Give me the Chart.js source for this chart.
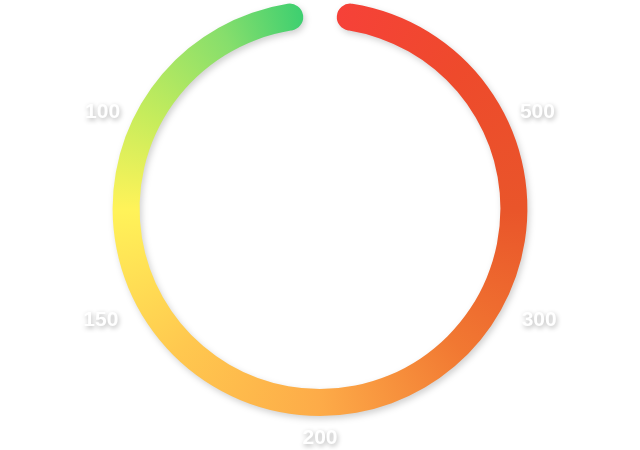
<!DOCTYPE html>
<html><head><meta charset="utf-8">
<script src="https://cdn.jsdelivr.net/npm/chart.js@4.4.0/dist/chart.umd.min.js"></script>
<style>html,body{margin:0;padding:0;background:#fff}#wrap{width:640px;height:450px;position:relative}</style>
</head><body><div id="wrap"><canvas id="c"></canvas></div>
<script>
// ring value (single continuous gauge arc)
const ringValue = [100];
// tick labels around the gauge
const tickLabels = ['500', '300', '200', '150', '100'];
// gradient colours along the ring, clockwise from the top
const gradientColors = ['#f7403a', '#ee4a2c', '#e9552a', '#f17832', '#fdab48', '#ffc84f', '#fff359', '#c5ec5c', '#86de6c', '#2ecc71'];
const gradientOffsets = [0, 0.125, 0.25, 0.375, 0.5, 0.625, 0.75, 0.83, 0.92, 1];

// label placement (degrees clockwise from top, distance from centre)
const labelAngles = [66, 117, 180, 243, 294];
const labelRadii = [238, 246, 230, 246, 238];

function ringGradient(context) {
  const chart = context.chart;
  const area = chart.chartArea;
  if (!area) return '#f7403a';
  const cx = (area.left + area.right) / 2;
  const cy = (area.top + area.bottom) / 2;
  const g = chart.ctx.createConicGradient(-Math.PI / 2, cx, cy);
  gradientColors.forEach((c, i) => g.addColorStop(gradientOffsets[i], c));
  return g;
}

const shadowPlugin = {
  id: 'ringShadow',
  beforeDatasetsDraw(chart) {
    const ctx = chart.ctx;
    ctx.save();
    ctx.shadowColor = 'rgba(0,0,0,0.18)';
    ctx.shadowBlur = 6;
    ctx.shadowOffsetX = 2;
    ctx.shadowOffsetY = 3;
  },
  afterDatasetsDraw(chart) {
    chart.ctx.restore();
  }
};

const labelPlugin = {
  id: 'tickLabels',
  afterDraw(chart) {
    const ctx = chart.ctx;
    const arc = chart.getDatasetMeta(0).data[0];
    const cx = arc.x, cy = arc.y;
    ctx.save();
    ctx.font = 'bold 21px "Liberation Sans", Arial, sans-serif';
    ctx.textAlign = 'center';
    ctx.textBaseline = 'middle';
    ctx.fillStyle = '#ffffff';
    ctx.shadowColor = 'rgba(0,0,0,0.3)';
    ctx.shadowBlur = 5;
    ctx.shadowOffsetX = 1;
    ctx.shadowOffsetY = 2;
    tickLabels.forEach((t, i) => {
      const a = labelAngles[i] * Math.PI / 180;
      const x = cx + labelRadii[i] * Math.sin(a);
      const y = cy - labelRadii[i] * Math.cos(a);
      ctx.fillText(t, x, y);
    });
    ctx.restore();
  }
};

new Chart(document.getElementById('c'), {
  type: 'doughnut',
  data: {
    labels: ['value'],
    datasets: [{
      data: ringValue,
      backgroundColor: ringGradient,
      borderWidth: 0,
      borderRadius: 14
    }]
  },
  options: {
    responsive: true,
    maintainAspectRatio: false,
    animation: false,
    rotation: 5,
    circumference: 350,
    cutout: '87%',
    layout: { padding: { top: 2, bottom: 34, left: 0, right: 0 } },
    plugins: { legend: { display: false }, tooltip: { enabled: false } }
  },
  plugins: [shadowPlugin, labelPlugin]
});
</script>
</body></html>
